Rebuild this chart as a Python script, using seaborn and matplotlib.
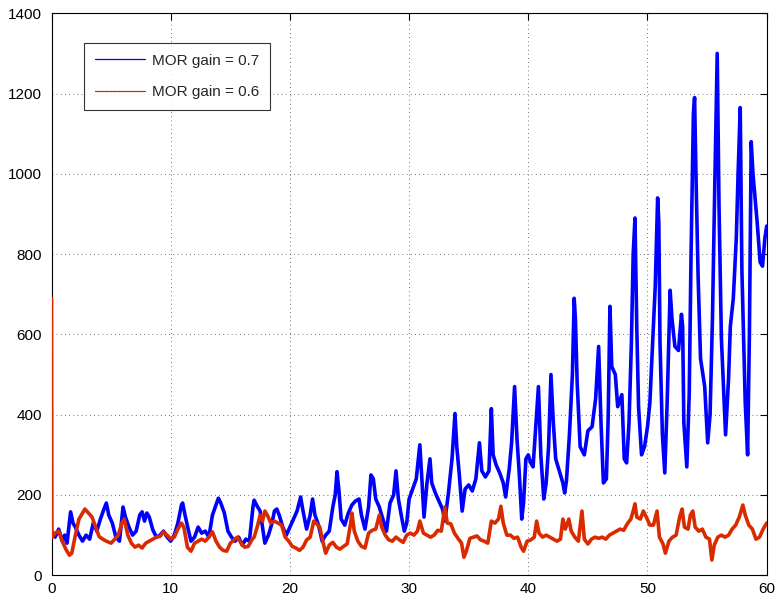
import numpy as np
import pandas as pd
import matplotlib
matplotlib.use("Agg")
import matplotlib.pyplot as plt
from matplotlib.lines import Line2D
import seaborn as sns

# Simulated output for two MOR gain settings (time, value)
blue_t = [0.0, 0.3, 0.6, 0.9, 1.1, 1.3, 1.6, 1.8, 2.0, 2.3, 2.6, 2.9, 3.2, 3.5, 3.8,
          4.1, 4.4, 4.6, 4.8, 5.1, 5.4, 5.7, 6.0, 6.2, 6.5, 6.8, 7.1, 7.4, 7.6, 7.8,
          8.0, 8.2, 8.5, 8.8, 9.1, 9.4, 9.7, 10.0, 10.3, 10.6, 10.9, 11.0, 11.2, 11.5,
          11.7, 12.0, 12.3, 12.6, 12.9, 13.2, 13.5, 13.8, 14.0, 14.2, 14.5, 14.8, 15.1,
          15.4, 15.7, 16.0, 16.3, 16.6, 16.9, 17.0, 17.2, 17.5, 17.7, 17.9, 18.2, 18.5,
          18.7, 18.9, 19.1, 19.4, 19.7, 20.0, 20.3, 20.6, 20.9, 21.1, 21.4, 21.7, 21.9,
          22.1, 22.4, 22.7, 23.0, 23.3, 23.6, 23.8, 23.95, 24.1, 24.3, 24.6, 24.9, 25.2,
          25.5, 25.8, 26.0, 26.3, 26.6, 26.8, 27.0, 27.2, 27.5, 27.8, 28.1, 28.4, 28.7,
          28.9, 29.1, 29.4, 29.6, 29.8, 30.0, 30.3, 30.6, 30.9, 31.05, 31.25, 31.5,
          31.75, 31.9, 32.2, 32.5, 32.8, 33.0, 33.3, 33.6, 33.85, 34.0, 34.2, 34.45,
          34.7, 35.0, 35.3, 35.6, 35.9, 36.1, 36.4, 36.7, 36.9, 37.05, 37.3, 37.6, 37.9,
          38.1, 38.4, 38.6, 38.85, 39.05, 39.25, 39.45, 39.6, 39.8, 40.0, 40.2, 40.4,
          40.6, 40.85, 41.05, 41.3, 41.5, 41.7, 41.9, 42.1, 42.3, 42.6, 42.9, 43.05,
          43.2, 43.45, 43.7, 43.85, 43.95, 44.1, 44.35, 44.7, 45.0, 45.35, 45.65, 45.9,
          46.1, 46.3, 46.55, 46.7, 46.85, 47.0, 47.3, 47.5, 47.85, 48.05, 48.25, 48.45,
          48.65, 48.8, 48.95, 49.1, 49.25, 49.5, 49.75, 50.0, 50.2, 50.4, 50.65, 50.85,
          50.95, 51.05, 51.25, 51.45, 51.65, 51.9, 52.05, 52.3, 52.6, 52.85, 52.95,
          53.05, 53.3, 53.5, 53.65, 53.85, 53.95, 54.1, 54.25, 54.45, 54.8, 55.05,
          55.25, 55.45, 55.65, 55.85, 56.0, 56.2, 56.55, 56.8, 56.95, 57.2, 57.45, 57.6,
          57.78, 57.92, 58.2, 58.4, 58.55, 58.7, 58.85, 59.05, 59.2, 59.45, 59.65,
          59.85, 60.0]
blue_v = [110, 95, 115, 85, 100, 80, 158, 130, 120, 100, 85, 100, 90, 130, 110,
          140, 165, 180, 150, 130, 95, 85, 170, 145, 120, 100, 110, 150, 158, 135,
          155, 145, 113, 95, 100, 110, 95, 85, 100, 130, 175, 180, 150, 110,
          85, 95, 120, 105, 110, 95, 150, 175, 192, 180, 155, 110, 95,
          85, 95, 75, 90, 85, 170, 187, 175, 160, 120, 80, 100, 130,
          160, 165, 150, 120, 100, 120, 140, 160, 195, 160, 115, 150, 190,
          150, 125, 85, 100, 110, 170, 200, 258, 215, 140, 125, 155, 175,
          185, 190, 150, 115, 170, 250, 240, 190, 170, 140, 110, 180, 200,
          260, 190, 140, 110, 130, 190, 215, 240, 325, 250, 145, 230,
          290, 230, 205, 185, 165, 135, 205, 290, 403, 320, 255, 160,
          215, 225, 210, 240, 330, 260, 245, 260, 415, 300, 275, 255, 230,
          195, 265, 330, 470, 340, 250, 140, 180, 290, 300, 280, 270,
          360, 470, 300, 190, 230, 320, 500, 380, 290, 260, 230, 205,
          235, 350, 500, 690, 640, 480, 320, 300, 360, 370, 440, 570,
          380, 230, 240, 390, 670, 520, 500, 420, 450, 290, 280, 380,
          580, 800, 890, 620, 420, 300, 320, 370, 430, 560, 720, 940,
          880, 580, 350, 255, 430, 710, 640, 570, 560, 650, 620,
          380, 270, 450, 790, 1150, 1190, 950, 740, 540, 470, 330,
          400, 640, 980, 1300, 920, 590, 350, 490, 620, 690, 840, 1000,
          1165, 760, 430, 300, 600, 1080, 1000, 930, 880, 780, 770,
          840, 870]

red_t = [0.0, 0.03, 0.3, 0.6, 0.9, 1.2, 1.5, 1.7, 2.0, 2.3, 2.6, 2.8, 3.1, 3.4, 3.7,
         4.0, 4.3, 4.6, 5.0, 5.3, 5.6, 5.9, 6.1, 6.4, 6.7, 7.0, 7.3, 7.6, 7.9, 8.2,
         8.5, 8.8, 9.1, 9.4, 9.7, 10.0, 10.3, 10.6, 10.9, 11.1, 11.4, 11.7, 12.0,
         12.3, 12.6, 12.9, 13.2, 13.5, 13.8, 14.1, 14.4, 14.7, 15.0, 15.3, 15.6,
         15.9, 16.2, 16.5, 16.8, 17.0, 17.3, 17.5, 17.7, 17.9, 18.1, 18.4, 18.7,
         19.0, 19.3, 19.6, 19.9, 20.2, 20.5, 20.8, 21.1, 21.4, 21.7, 22.0, 22.2,
         22.5, 22.8, 23.0, 23.3, 23.6, 23.9, 24.2, 24.5, 24.8, 25.1, 25.2, 25.4,
         25.7, 26.0, 26.3, 26.6, 26.9, 27.2, 27.5, 27.7, 28.0, 28.3, 28.6, 28.9,
         29.2, 29.5, 29.8, 30.1, 30.4, 30.7, 30.9, 31.2, 31.5, 31.8, 32.1, 32.4,
         32.7, 33.0, 33.2, 33.5, 33.8, 34.1, 34.4, 34.6, 34.8, 35.1, 35.4, 35.7,
         36.0, 36.3, 36.6, 36.9, 37.2, 37.5, 37.7, 37.9, 38.2, 38.5, 38.8, 39.1,
         39.4, 39.6, 39.9, 40.2, 40.5, 40.7, 40.9, 41.2, 41.5, 41.8, 42.1, 42.4,
         42.7, 42.9, 43.1, 43.4, 43.6, 43.9, 44.2, 44.5, 44.7, 45.0, 45.3, 45.6,
         45.9, 46.2, 46.5, 46.8, 47.1, 47.4, 47.7, 48.0, 48.3, 48.6, 48.8, 48.95,
         49.1, 49.4, 49.65, 49.9, 50.2, 50.5, 50.8, 51.0, 51.3, 51.5, 51.8, 52.1,
         52.4, 52.7, 52.9, 53.1, 53.4, 53.6, 53.8, 54.0, 54.3, 54.6, 54.9, 55.2,
         55.4, 55.6, 55.9, 56.2, 56.5, 56.8, 57.1, 57.4, 57.7, 58.0, 58.2, 58.5,
         58.8, 59.1, 59.4, 59.7, 60.0]
red_v = [690, 95, 105, 110, 85, 65, 50, 55, 100, 140, 155, 165, 155, 145, 120,
         96, 90, 85, 80, 90, 100, 130, 140, 100, 80, 70, 75, 68, 80, 85,
         90, 95, 97, 108, 100, 90, 95, 115, 130, 120, 70, 60, 80,
         85, 90, 85, 95, 108, 85, 70, 62, 60, 80, 88, 95,
         80, 70, 72, 88, 95, 125, 150, 135, 160, 150, 130, 135,
         130, 125, 95, 85, 72, 68, 62, 70, 88, 95, 135, 130,
         120, 80, 55, 75, 82, 70, 65, 72, 78, 130, 155, 110,
         85, 72, 68, 105, 112, 115, 150, 120, 100, 88, 85, 95,
         88, 82, 100, 105, 100, 110, 135, 105, 100, 95, 100, 112,
         110, 170, 130, 128, 105, 92, 80, 45, 60, 92, 95, 98,
         88, 85, 80, 135, 130, 140, 172, 130, 100, 100, 92, 95,
         70, 60, 85, 88, 95, 135, 105, 95, 100, 95, 90, 85,
         90, 140, 115, 140, 110, 95, 85, 160, 90, 78, 90, 95,
         92, 95, 90, 100, 105, 110, 115, 112, 128, 140, 160, 178,
         145, 140, 160, 145, 125, 125, 160, 95, 78, 55, 85, 95,
         100, 145, 165, 120, 115, 150, 160, 120, 110, 115, 95, 90,
         38, 75, 95, 100, 95, 100, 115, 125, 145, 175, 150, 125,
         115, 90, 95, 115, 130]

labels = ["MOR gain = 0.7", "MOR gain = 0.6"]
colors = ["#0000ff", "#d92a00"]
x_ticks = [0, 10, 20, 30, 40, 50, 60]
y_ticks = [0, 200, 400, 600, 800, 1000, 1200, 1400]

df = pd.concat([
    pd.DataFrame({"t": blue_t, "value": blue_v, "series": labels[0]}),
    pd.DataFrame({"t": red_t, "value": red_v, "series": labels[1]}),
], ignore_index=True)

sns.set_style("white")
plt.rcParams["font.family"] = ["Liberation Sans", "DejaVu Sans"]

fig = plt.figure(figsize=(7.76, 6.01), dpi=100)
ax = fig.add_axes([0.0664, 0.0428, 0.9216, 0.9351])

sns.lineplot(data=df, x="t", y="value", hue="series", palette=colors,
             estimator=None, sort=False, linewidth=2.6, legend=False, ax=ax,
             zorder=3)

ax.set_xlim(0, 60)
ax.set_ylim(0, 1400)
ax.set_xticks(x_ticks)
ax.set_yticks(y_ticks)
ax.set_xlabel("")
ax.set_ylabel("")
ax.grid(True, color="#444444", linestyle=(0, (1, 4)), linewidth=0.6)
ax.tick_params(direction="in", length=5, width=0.8, labelsize=11,
               top=True, right=True, colors="black")
ax.tick_params(axis="y", pad=7)
ax.tick_params(axis="x", pad=5)
for s in ax.spines.values():
    s.set_visible(True)
    s.set_color("black")
    s.set_linewidth(0.8)

handles = [Line2D([0], [0], color=c, lw=0.9) for c in colors]
leg = ax.legend(handles, labels, loc="upper left", bbox_to_anchor=(0.0454, 0.947),
                fontsize=11, frameon=True, fancybox=False, handlelength=3.3,
                borderpad=0.7, labelspacing=1.15, handletextpad=0.45,
                borderaxespad=0)
leg.get_frame().set_edgecolor("black")
leg.get_frame().set_linewidth(0.8)
leg.set_zorder(5)

fig.savefig("out.png", dpi=100, facecolor="white")
